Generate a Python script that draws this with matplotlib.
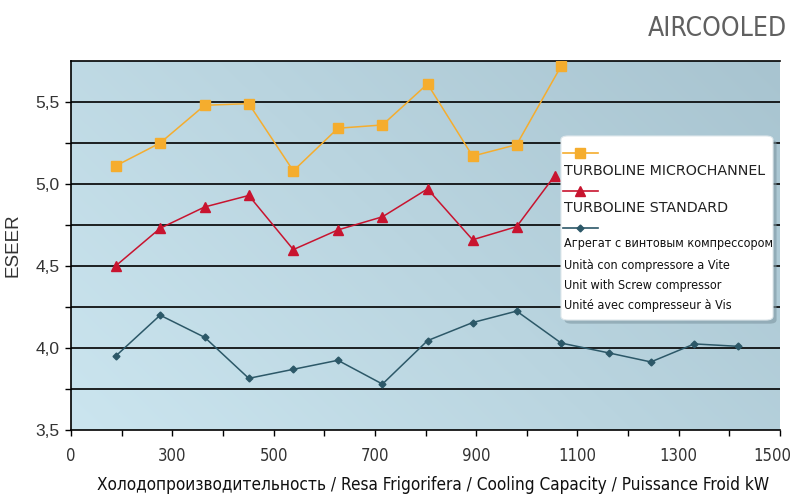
import numpy as np
import matplotlib
matplotlib.use('Agg')
import matplotlib.pyplot as plt
import matplotlib.transforms as mtrans
from matplotlib.patches import FancyBboxPatch
from matplotlib.lines import Line2D
from matplotlib import font_manager as fm

# ---------------- data ----------------
x_main = [188, 276, 364, 451, 539, 627, 715, 804, 893, 980, 1068]
micro_x = x_main
micro_y = [5.11, 5.25, 5.48, 5.49, 5.08, 5.34, 5.36, 5.61, 5.17, 5.24, 5.72]
std_x = x_main[:10] + [1055]
std_y = [4.50, 4.73, 4.86, 4.93, 4.60, 4.72, 4.80, 4.97, 4.66, 4.74, 5.05]
screw_x = x_main + [1162, 1245, 1331, 1418]
screw_y = [3.95, 4.20, 4.065, 3.815, 3.87, 3.925, 3.78, 4.045, 4.155, 4.225,
           4.03, 3.97, 3.915, 4.025, 4.01]

xtick_vals = [100, 300, 500, 700, 900, 1100, 1300, 1500]
xtick_labels = ['0', '300', '500', '700', '900', '1100', '1300', '1500']
ytick_vals = [3.5, 4.0, 4.5, 5.0, 5.5]
ytick_labels = ['3,5', '4,0', '4,5', '5,0', '5,5']

legend_micro = 'TURBOLINE MICROCHANNEL'
legend_std = 'TURBOLINE STANDARD'
legend_screw = ['Агрегат с винтовым компрессором', 'Unità con compressore a Vite',
                'Unit with Screw compressor', 'Unité avec compresseur à Vis']
xlabel = 'Холодопроизводительность / Resa Frigorifera / Cooling Capacity / Puissance Froid kW'
ylabel = 'ESEER'
title = 'AIRCOOLED'

# pick a condensed face if one is installed
cond_ok = False
for f in fm.fontManager.ttflist:
    if f.name == 'DejaVu Sans' and 'condensed' in str(f.stretch).lower():
        cond_ok = True
        break
    if f.name == 'DejaVu Sans' and isinstance(f.stretch, (int, float)) and f.stretch < 500:
        cond_ok = True
        break
NARROW = dict(family=['DejaVu Sans'], fontstretch='condensed') if cond_ok else dict(family=['Liberation Sans'])
nscale = 1.0 if cond_ok else 0.92

plt.rcParams['font.family'] = ['Liberation Sans', 'DejaVu Sans']

c_orange = '#f5ad2e'
c_red = '#c8142f'
c_blue = '#2c5868'

fig = plt.figure(figsize=(7.9, 4.95), dpi=100)
ax = fig.add_axes([71 / 790, 1 - 430 / 495, 709 / 790, 369 / 495])

xmin, xmax, ymin, ymax = 100, 1500, 3.5, 5.75

# gradient background
n = 200
gx, gy = np.meshgrid(np.linspace(0, 1, n), np.linspace(0, 1, n))
t = np.clip((gx * 0.65 + gy * 0.35), 0, 1)
c0 = np.array([0xcb, 0xe5, 0xef]) / 255.0
c1 = np.array([0xa8, 0xc4, 0xd0]) / 255.0
img = c0[None, None, :] * (1 - t[..., None]) + c1[None, None, :] * t[..., None]
ax.imshow(img, extent=[xmin, xmax, ymin, ymax], origin='lower', aspect='auto',
          zorder=0, interpolation='bilinear')

# grid lines
for gyv in np.arange(3.75, 5.75, 0.25):
    ax.axhline(gyv, color='black', lw=1.2, zorder=1)

ax.plot(micro_x, micro_y, color=c_orange, lw=1.1, marker='s', ms=6.5,
        mfc=c_orange, mec=c_orange, zorder=3)
ax.plot(std_x, std_y, color=c_red, lw=1.1, marker='^', ms=7,
        mfc=c_red, mec=c_red, zorder=3)
ax.plot(screw_x, screw_y, color=c_blue, lw=1.1, marker='D', ms=3.5,
        mfc=c_blue, mec=c_blue, zorder=3)

ax.set_xlim(xmin, xmax)
ax.set_ylim(ymin, ymax)

for s in ['left', 'bottom', 'top']:
    ax.spines[s].set_color('black')
    ax.spines[s].set_linewidth(1.2)
ax.spines['right'].set_visible(False)

ax.tick_params(axis='both', which='both', direction='out', length=4, width=1,
               color='black', labelcolor='#333333')
ax.tick_params(axis='x', pad=8)
ax.tick_params(axis='y', pad=4, labelsize=12.5)

ax.set_xticks(xtick_vals)
ax.set_xticklabels(xtick_labels, fontsize=12 * nscale, **NARROW)
ax.set_xticks(np.arange(200, 1500, 200), minor=True)
ax.set_yticks(ytick_vals)
ax.set_yticklabels(ytick_labels)
ax.set_yticks(np.arange(3.75, 5.75, 0.5), minor=True)

# nudge the last x label so it stays inside the image
last = ax.get_xticklabels()[-1]
last.set_transform(last.get_transform() +
                   mtrans.ScaledTranslation(-8 / 100, 0, fig.dpi_scale_trans))

ax.set_ylabel(ylabel, fontsize=13.5, color='#333333', labelpad=10)
fig.text(433 / 790, 1 - 485 / 495, xlabel, fontsize=12.3 * nscale,
         color='#111111', ha='center', va='center', **NARROW)
fig.text(787 / 790, 1 - 29 / 495, title, fontsize=19 * nscale,
         color='#606060', ha='right', va='center', **NARROW)

# legend box
def ax_x(px):
    return (px - 71) / 709.0

def ax_y(py):
    return (430 - py) / 369.0

bx0, bx1, by0, by1 = ax_x(561), ax_x(773), ax_y(320), ax_y(136)
shadow = FancyBboxPatch((bx0 + 0.005, by0 - 0.01), bx1 - bx0, by1 - by0,
                        boxstyle='round,pad=0,rounding_size=0.01',
                        transform=ax.transAxes, fc='#7f98a3', ec='none',
                        alpha=0.6, zorder=5, clip_on=False)
ax.add_patch(shadow)
box = FancyBboxPatch((bx0, by0), bx1 - bx0, by1 - by0,
                     boxstyle='round,pad=0,rounding_size=0.01',
                     transform=ax.transAxes, fc='white', ec='#e0e8ec', lw=0.8,
                     zorder=6, clip_on=False)
ax.add_patch(box)

def handle(py, color, marker, ms):
    ax.add_line(Line2D([ax_x(563), ax_x(598)], [ax_y(py), ax_y(py)],
                       transform=ax.transAxes, color=color, lw=1.2, zorder=7))
    ax.add_line(Line2D([ax_x(580)], [ax_y(py)], transform=ax.transAxes,
                       color=color, marker=marker, ms=ms, mfc=color, mec=color,
                       zorder=7))

handle(153, c_orange, 's', 6.5)
handle(191, c_red, '^', 7)
handle(228, c_blue, 'D', 3.5)

tx = ax_x(564)
ax.text(tx, ax_y(171), legend_micro, transform=ax.transAxes, fontsize=10.3,
        family=['DejaVu Sans'], color='#222222', va='center', ha='left', zorder=8)
ax.text(tx, ax_y(208), legend_std, transform=ax.transAxes, fontsize=10.3,
        family=['DejaVu Sans'], color='#222222', va='center', ha='left', zorder=8)
for py, s in zip([244, 265, 286, 306], legend_screw):
    ax.text(tx, ax_y(py), s, transform=ax.transAxes, fontsize=9.0 * nscale,
            color='#111111', va='center', ha='left', zorder=8, **NARROW)

fig.savefig('out.png', dpi=100)
